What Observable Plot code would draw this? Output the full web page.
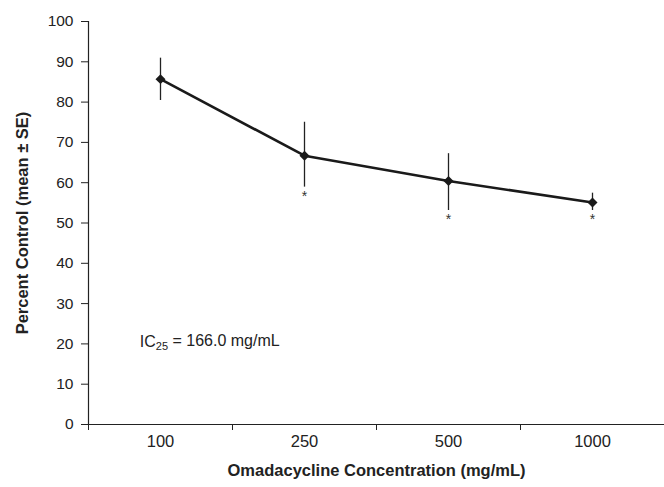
<!DOCTYPE html>
<html>
<head>
<meta charset="utf-8">
<script src="https://cdn.jsdelivr.net/npm/d3@7"></script>
<script src="https://cdn.jsdelivr.net/npm/@observablehq/plot@0.6"></script>
<style>
  html, body { margin: 0; padding: 0; background: #fff; overflow: hidden; }
  #chart svg { display: block; font-family: "Liberation Sans", Arial, sans-serif; }
</style>
</head>
<body>
<div id="chart"></div>
<script>
const concentrations = ["100", "250", "500", "1000"];
const means = [85.7, 66.7, 60.4, 55.1];
const seLow = [80.4, 58.9, 53.1, 53.1];
const seHigh = [90.9, 75.0, 67.2, 57.4];
const significant = [false, true, true, true];
const yTicks = [0, 10, 20, 30, 40, 50, 60, 70, 80, 90, 100];
const annotation = { x: 0.356, y: 20.6, text: "IC25 = 166.0 mg/mL" };

const data = concentrations.map((c, i) => ({
  pos: i + 0.5, conc: c, mean: means[i], lo: seLow[i], hi: seHigh[i], sig: significant[i]
}));

const chart = Plot.plot({
  width: 664,
  height: 487,
  marginLeft: 88,
  marginRight: 0,
  marginTop: 21,
  marginBottom: 63,
  style: { fontFamily: "Liberation Sans, Arial, sans-serif", fontSize: "15px", color: "#222", background: "#fff" },
  x: { type: "linear", domain: [0, concentrations.length] },
  y: { domain: [0, 100] },
  marks: [
    Plot.axisY({ ticks: yTicks, tickSize: 7, tickFormat: () => "", label: null, stroke: "#222" }),
    Plot.text(yTicks, { y: d => d, frameAnchor: "left", textAnchor: "end", dx: -15, text: d => String(d), fontSize: 15.5, fill: "#222" }),
    Plot.frame({ anchor: "left", stroke: "#222", strokeWidth: 1.2 }),
    Plot.ruleY([0], { stroke: "#222", strokeWidth: 1.2 }),
    Plot.axisX({ ticks: d3.range(concentrations.length + 1), tickSize: 6, tickFormat: () => "", label: null, stroke: "#222" }),
    Plot.text(data, { x: "pos", frameAnchor: "bottom", dy: 22, text: "conc", fontSize: 16.5, fill: "#222" }),
    Plot.ruleX(data, { x: "pos", y1: "lo", y2: "hi", stroke: "#222", strokeWidth: 1.3 }),
    Plot.line(data, { x: "pos", y: "mean", stroke: "#1a1a1a", strokeWidth: 2.6 }),
    Plot.dot(data, { x: "pos", y: "mean", symbol: "diamond2", r: 4.5, fill: "#1a1a1a", stroke: "none" }),
    Plot.text(data.filter(d => d.sig), { x: "pos", y: "lo", text: () => "*", lineAnchor: "top", dy: 4, fontSize: 14, fill: "#333" }),
    Plot.text([annotation], { x: "x", y: "y", text: "text", textAnchor: "start", fontSize: 16, fill: "#222", className: "ic-label" }),
    Plot.text(["Omadacycline Concentration (mg/mL)"], { frameAnchor: "bottom", textAnchor: "middle", dy: 51, text: d => d, fontWeight: "bold", fontSize: 16.5, fill: "#222" }),
    Plot.text(["Percent Control (mean \u00b1 SE)"], { frameAnchor: "left", textAnchor: "middle", dx: -66, rotate: -90, text: d => d, fontWeight: "bold", fontSize: 16.5, fill: "#222" })
  ]
});

document.getElementById("chart").appendChild(chart);

// render subscript "25" in the IC25 annotation
d3.select(chart).selectAll(".ic-label text").each(function () {
  const t = d3.select(this);
  const s = t.text();
  if (s.startsWith("IC25")) {
    t.text("");
    t.append("tspan").text("IC");
    t.append("tspan").attr("font-size", 11).attr("dy", "0.35em").text("25");
    t.append("tspan").attr("dy", "-0.3em").text(s.slice(4));
  }
});
</script>
</body>
</html>
